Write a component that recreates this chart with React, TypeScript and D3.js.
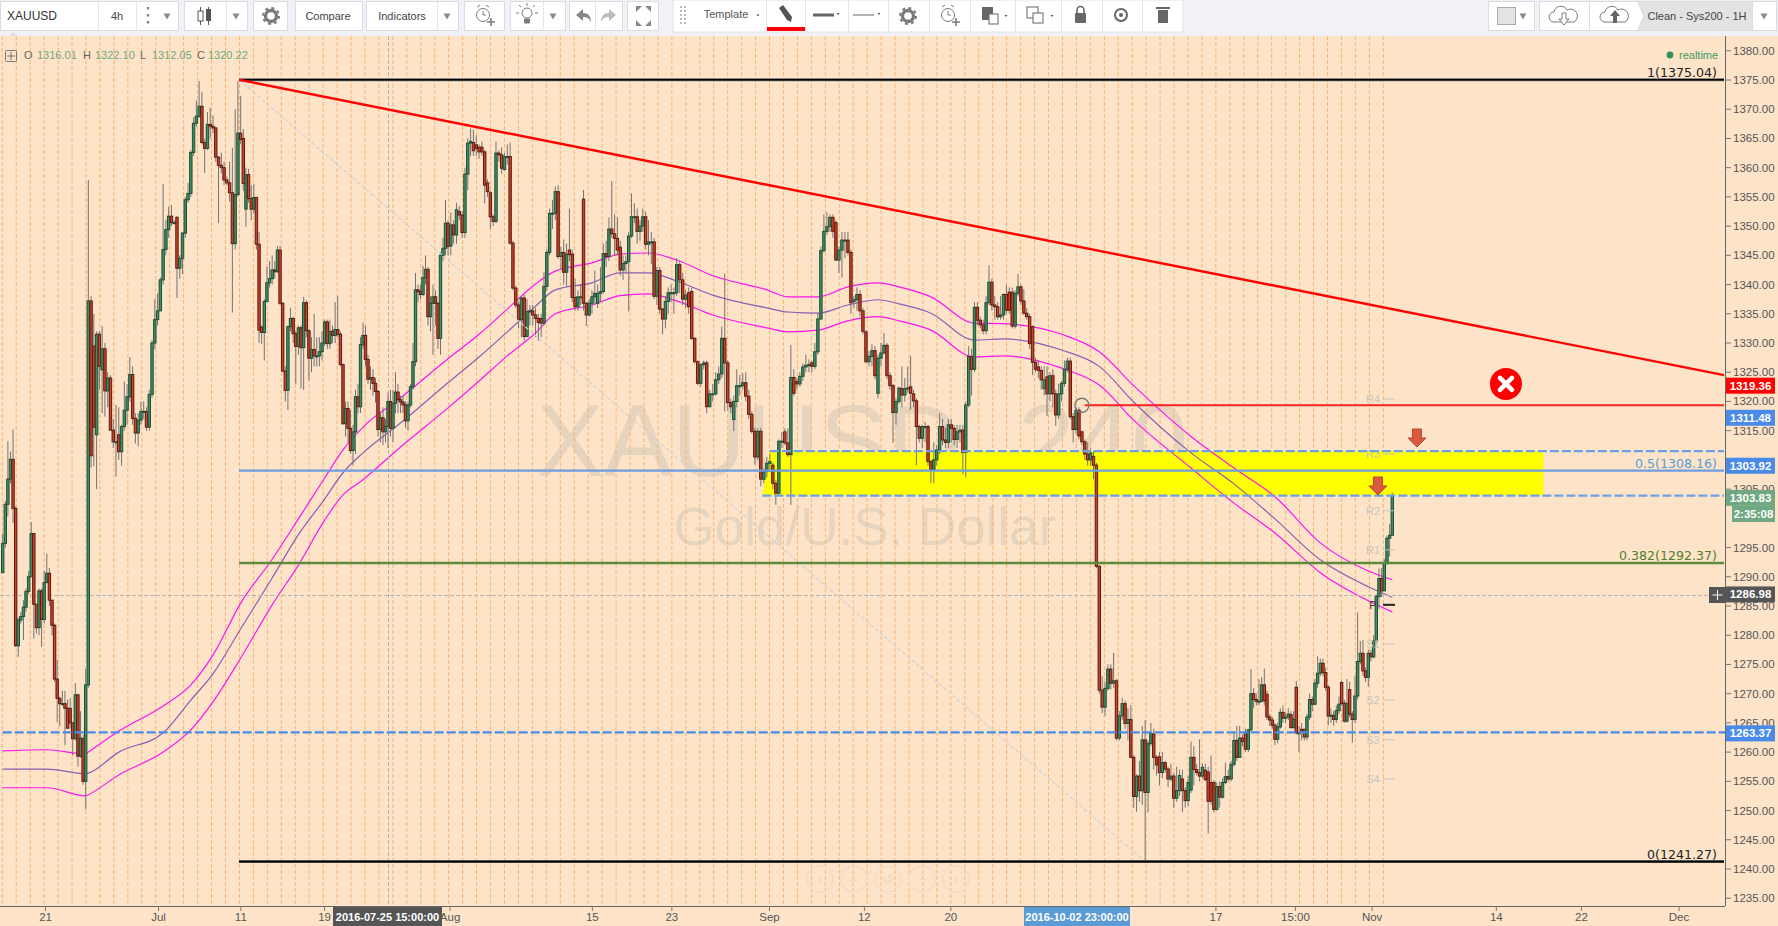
import React from 'react'
import * as d3 from 'd3'

const W = 1778
const H = 926

/** 4h XAUUSD candles */
const opens = [
  1290.7,1295.7,1302.4,1306.7,1310.1,1301.7,1278.2,1282.6,1283.2,1284.8,
  1287.5,1290,1297.4,1285.3,1281.3,1287.6,1282.7,1289,1290.6,1286,
  1281.7,1272.5,1269.2,1268.3,1268.3,1267.5,1267.5,1265,1262.3,1269.8,
  1259.3,1262.3,1255,1271.5,1337.2,1329.5,1314.3,1331.5,1325.4,1329,
  1321.8,1324,1315.1,1313.1,1314.3,1311.4,1315.7,1318.5,1320.8,1324.6,
  1317.1,1314.6,1316.8,1318.3,1318.3,1315.6,1321.2,1330,1334,1335.5,
  1340.8,1346,1349.4,1351.7,1350.6,1351.5,1342.8,1344.5,1348.8,1354.5,
  1355.6,1362.6,1367.6,1368.8,1370.5,1364.3,1363.3,1367.4,1367.1,1366.8,
  1361.8,1360.4,1360,1357.9,1357.4,1355.7,1347,1355.4,1365.9,1365,
  1352.9,1358.8,1354.7,1352.9,1354.9,1346.9,1332.7,1331.8,1337.1,1340.3,
  1341,1342.5,1342.2,1345.9,1336.8,1325.2,1321.9,1332.8,1334.2,1331.6,
  1329.4,1332.6,1329.2,1336.9,1332.1,1327.4,1328.9,1327.8,1327.8,1328.5,
  1330,1333.6,1329.9,1332,1331.3,1332.3,1331.5,1326.3,1316.2,1318.8,
  1315.4,1311.6,1314.8,1320.8,1319.1,1329.7,1331.3,1327.2,1323.8,1324.1,
  1323.1,1321.7,1315.2,1317.2,1314.8,1315.7,1320,1315.4,1319.7,1321.6,
  1320.3,1319.9,1319.4,1316.7,1319.4,1322.5,1326.8,1339.1,1338.8,1338.3,
  1341.2,1342.6,1334.5,1336.8,1337.9,1336.8,1330.8,1345,1346.2,1350.5,
  1346.6,1350.2,1348.5,1352.5,1351.9,1348.9,1358.9,1364.2,1364.3,1363.9,
  1363.5,1363.5,1362.7,1357.4,1355.7,1351.6,1350.8,1362.5,1362.2,1359.7,
  1361.9,1361.9,1347.1,1339.4,1336.5,1334,1337.7,1331.1,1335.4,1335.5,
  1334.8,1334.2,1334.2,1333.4,1339.7,1345.5,1352.2,1352.2,1355.9,1344.8,
  1345.5,1342.1,1345.9,1345.2,1337.8,1336.2,1337.9,1354.6,1336.8,1334.8,
  1336.8,1337.9,1336.8,1338.5,1338.8,1345.3,1344.8,1349.5,1348.7,1347.9,
  1346.4,1342.5,1343.6,1343.9,1348.3,1351.6,1351.6,1349.1,1350,1351.6,
  1346.9,1347.3,1347.3,1338,1342.4,1335.8,1334.1,1337.1,1338.6,1338.6,
  1338.6,1343.4,1340.8,1337.5,1338.6,1338.8,1330.8,1326.8,1323.1,1326.3,
  1326.6,1319.1,1321.3,1321.3,1323.7,1324.7,1330.8,1326.6,1319.8,1316.9,
  1320,1322.7,1322.7,1323.2,1320.9,1317.8,1314.9,1310.5,1314.9,1306.7,
  1308,1309.4,1309.1,1306,1304.3,1313.2,1314.8,1312.9,1310.9,1324.1,
  1323.4,1323,1324.3,1325.9,1326.2,1326.6,1326,1328.5,1334.1,1345.8,
  1349.1,1349.9,1351.5,1350.6,1344.2,1345.9,1347.6,1347.6,1345.5,1337.1,
  1337.4,1338.3,1335.5,1331.9,1326.8,1327.7,1328.7,1321.4,1327.4,1328.3,
  1329.6,1324.4,1322.7,1318.1,1320,1322.2,1321.1,1322.2,1322.5,1321.3,
  1320.1,1315.7,1313.7,1315.7,1315.7,1309.7,1308.3,1310,1311.7,1315.7,
  1313.4,1313,1316,1315.4,1313.5,1314.8,1315.1,1311.3,1319.4,1327.7,
  1325.5,1336.1,1333.9,1333.1,1332.1,1336.9,1340.4,1336.5,1336.2,1334.5,
  1334.8,1338.3,1338.7,1338.7,1332.9,1338.5,1339.6,1337.2,1335.1,1334.5,
  1332.8,1326.7,1325.9,1325.3,1322.2,1324.2,1321.3,1324.4,1321.3,1317.7,
  1321.3,1323.1,1325.5,1326.9,1317.4,1315.2,1318.5,1314.8,1313.1,1311,
  1310,1310.6,1309.1,1291.8,1270.6,1267.7,1270.9,1274.2,1271.8,1272.2,
  1262.4,1266.2,1268.3,1264.9,1265.6,1259.1,1252.4,1255.9,1253.4,1262.1,
  1253.1,1261.5,1263.1,1259.1,1259.2,1256.5,1258.2,1257.1,1255.4,1255.9,
  1252.1,1253.4,1255.4,1253.4,1251.7,1253.5,1259.1,1257,1256.5,1255.9,
  1256.9,1256.6,1254.8,1254.8,1250.2,1254.1,1252.3,1254.8,1255.8,1255.4,
  1257.9,1262,1259.1,1262.4,1263.4,1260.5,1263.8,1270,1269,1268.7,
  1268.7,1271.5,1269.9,1266,1265.5,1264.6,1262.2,1264.3,1266.8,1265.8,
  1266,1266.4,1264.2,1271.1,1263.3,1263.9,1263.9,1262.6,1266,1269,
  1268.2,1271.8,1273.5,1275.2,1273.6,1271.1,1266.2,1266.3,1265.6,1267.1,
  1271.9,1268.4,1265.3,1270.7,1266.5,1265.6,1269.6,1275.5,1276.9,1273.9,
  1272.8,1276.9,1276.3,1279,1286.6,1289.7,1287.6,1292.3,1296.6,1297.1
]
const closes = [
  1295.7,1302.4,1306.7,1310.1,1301.7,1278.2,1282.6,1283.2,1284.8,1287.5,
  1290,1297.4,1285.3,1281.3,1287.6,1282.7,1289,1290.6,1286,1281.7,
  1272.5,1269.2,1268.3,1268.3,1267.5,1264.1,1265,1262.3,1269.8,1259.3,
  1262.4,1255,1271.5,1337.2,1310.7,1315.6,1331.5,1326,1329,1321.8,
  1324,1315.1,1313.1,1313.1,1311.4,1315.7,1318.5,1320.8,1324.6,1317.1,
  1314.6,1316.8,1318.3,1318.3,1315.6,1321.2,1330,1334,1335.5,1340.8,
  1346,1349.4,1351.7,1350.6,1350.6,1342.8,1344.5,1348.8,1354.5,1355.6,
  1362.6,1367.6,1368.8,1370.5,1364.3,1363.3,1367.4,1367.1,1366.8,1361.8,
  1360.4,1360,1357.9,1357.4,1355.7,1347,1355.4,1365.9,1364.8,1357.3,
  1358.8,1354.7,1352.9,1354.9,1346.9,1332.2,1331.8,1337.1,1340.3,1341,
  1342.5,1342.2,1345.9,1336.8,1325.2,1321.9,1332.8,1334.2,1331.6,1329.4,
  1332.6,1329.2,1336.9,1332.1,1327.4,1328.9,1327.8,1327.8,1328.5,1330,
  1333.6,1329.9,1332,1331.3,1332.3,1331.5,1326.3,1316.2,1318.8,1315.4,
  1311.6,1314.8,1320.8,1319.1,1329.7,1331.3,1327.2,1323.8,1324.1,1323.1,
  1321.7,1315.2,1317.2,1314.8,1315.7,1320,1315.4,1319.7,1321.6,1320.3,
  1319.9,1319.4,1316.7,1319.4,1322.5,1326.8,1339.1,1338.8,1338.3,1341.2,
  1342.6,1334.5,1336.8,1337.9,1336.8,1330.8,1345,1346.2,1350.5,1346.5,
  1350.2,1348.5,1352.8,1351.9,1348.9,1358.9,1364.2,1364.5,1362.9,1363.3,
  1362.7,1362.7,1357,1355.9,1351.6,1350.8,1362.5,1362.2,1359.9,1361.9,
  1361.9,1347.1,1339.4,1336.5,1334,1337.7,1331.1,1335.4,1335.5,1334.8,
  1334.2,1333.5,1333.4,1339.7,1345.5,1352.2,1352.2,1355.9,1344.8,1345.5,
  1342.1,1345.2,1345.1,1337.8,1336.2,1337.9,1337.9,1336.8,1334.8,1336.8,
  1337.9,1338.5,1338.5,1338.8,1345.3,1344.8,1349.5,1348.7,1347.9,1345.9,
  1342.5,1343.6,1343.9,1348.3,1351.6,1351.6,1349.1,1350,1351.6,1346.9,
  1347.3,1347.3,1338,1342.4,1335.8,1334.1,1337.1,1338.6,1338.6,1338.6,
  1343.4,1340.8,1337.5,1338.2,1336.2,1330.8,1326.8,1323.1,1326.3,1326.6,
  1319.1,1321.3,1321.3,1323.7,1324.7,1330.8,1326.6,1319.8,1319.1,1320,
  1322.7,1322.7,1323.2,1320.9,1317.8,1314.9,1310.5,1314.9,1306.7,1308,
  1309.4,1309.7,1306,1304.3,1313.2,1313.2,1312.9,1310.9,1324.1,1321.4,
  1323,1324.3,1325.9,1326.2,1326.3,1326,1328.5,1334.1,1345.8,1349.1,
  1349.9,1351.5,1349.1,1344.2,1345.9,1347.6,1347.6,1345.5,1336.9,1337.4,
  1338.3,1335.5,1332,1326.8,1327.7,1328.7,1324.4,1327.4,1328.3,1329.6,
  1324.4,1322.7,1318.1,1320,1322.3,1321.1,1322.2,1322.3,1321.4,1320.1,
  1315.7,1313.7,1315.7,1315.7,1309.7,1308.3,1310,1311.7,1315.7,1313.4,
  1313,1316,1315.4,1313.5,1314.8,1315.1,1311.3,1319.4,1327.7,1325.5,
  1336.1,1333.9,1333.1,1332.1,1336.9,1340.4,1336.5,1336.2,1334.5,1334.8,
  1338.3,1335.6,1335.6,1332.9,1338.5,1339.6,1337.2,1335.1,1334.5,1329.9,
  1326.7,1325.5,1325.3,1323.7,1323.7,1321.3,1324.4,1321.3,1317.7,1321.3,
  1323.1,1325.5,1326.9,1317.4,1315.2,1318.5,1314.1,1313.1,1311,1310,
  1311.2,1309.1,1291.8,1270.6,1267.7,1270.9,1274.2,1271.8,1272.2,1262.4,
  1266.2,1268.3,1264.9,1265.6,1259.1,1252.4,1255.9,1253.4,1262.1,1253.1,
  1261.5,1263.2,1259.1,1257.8,1256.5,1258.2,1257.1,1255.4,1255.9,1252.1,
  1253.4,1256,1253.4,1251.7,1254.8,1259.1,1257,1256.5,1255.9,1257.4,
  1255.3,1251.6,1251.6,1250.2,1254.1,1252.3,1254.8,1255.8,1255.4,1257.9,
  1262,1259.1,1262.4,1261.8,1260.5,1263.8,1270,1269,1268.7,1268.7,
  1271.5,1268.8,1266,1265.5,1264.6,1262.2,1264.3,1266.8,1265.8,1266,
  1266.5,1264.2,1265.6,1263.3,1263.3,1263.5,1262.6,1266,1269,1268.2,
  1271.8,1273.5,1275.2,1273.6,1271.1,1266.2,1266.3,1265.6,1267.1,1268.2,
  1268.3,1265.3,1268.3,1266.5,1265.6,1269.6,1275.5,1276.9,1273.9,1272.8,
  1276.9,1276.3,1279,1286.6,1289.7,1287.6,1292.3,1296.6,1297.1,1303.8
]
const highs = [
  1297.4,1303,1313.2,1311.4,1315.2,1302,1283,1284,1286,1288,
  1291,1299.4,1297.5,1285.3,1288,1288,1291,1294,1291.5,1286,
  1282,1275.8,1269.5,1270.5,1270.5,1269,1269.2,1265,1271.8,1270,
  1267,1263,1274.2,1357.9,1338,1335,1332,1332,1332.9,1330,
  1325,1324.5,1317,1319.4,1319,1316,1323.4,1323,1327.6,1326,
  1318,1318,1320,1320,1319,1322,1330.5,1337.6,1338.5,1341.2,
  1357.2,1351,1353.3,1353.6,1351,1351.7,1345,1349,1355,1357.4,
  1363,1368.6,1371.5,1374.8,1373,1365,1369.5,1370.3,1368.9,1367,
  1362,1362.6,1361,1358.5,1361,1363.4,1370,1374.8,1372.3,1366.6,
  1360,1359.8,1357,1357.2,1355,1349,1333,1337.5,1343,1344,
  1345,1344,1346.6,1346.6,1337,1326,1333,1336,1334.5,1332,
  1333,1333,1337.9,1337.3,1332.4,1331,1335,1331,1331,1332,
  1334,1334,1334,1333,1337,1338.1,1332,1326.5,1320,1320,
  1318.5,1316,1322,1323,1331,1333.5,1333,1328,1326,1325.5,
  1324,1322,1318,1319,1317,1321.5,1322,1322,1325,1323,
  1321,1321,1320,1320,1323,1330,1342,1340,1340,1343.2,
  1345,1343,1338,1340,1339,1337,1345.5,1348,1354.5,1351,
  1352.3,1351,1354,1353.5,1352.5,1360,1365,1366.7,1366.5,1365.5,
  1364,1364.5,1363,1358,1356,1352,1364.5,1363,1363.5,1362.5,
  1364,1364.3,1347.5,1339.8,1337,1338,1338.3,1337.5,1336.5,1336.5,
  1336,1335,1335,1342.2,1346,1353,1354.5,1356.8,1357,1346.5,
  1347.7,1347,1353,1346,1341,1339,1340,1356.2,1337,1337.5,
  1339,1342.4,1340,1343,1347,1347.5,1351.5,1357.7,1352,1351.5,
  1347.5,1345,1345,1349,1355.6,1353.9,1353,1351,1353,1352.5,
  1351,1349,1348,1343,1343,1336,1338,1339.5,1340,1339.5,
  1344.5,1344,1342,1339,1339.5,1339.5,1331,1327,1326.5,1327,
  1327,1322,1323,1325,1326,1332.8,1341.9,1327,1320.5,1321,
  1325.5,1324.5,1324.8,1325,1322,1318.3,1315.5,1315.4,1315.5,1308.5,
  1310.5,1311,1309.5,1306.5,1313.5,1314.8,1315.4,1315.4,1329.7,1325.5,
  1324,1325,1326.5,1328,1327.2,1327,1330,1335,1346.5,1352,
  1352.4,1352,1352,1351,1346.5,1349,1349,1349,1346,1338,
  1339.5,1339,1336,1332.2,1328.6,1329.8,1329.5,1328,1330,1331.7,
  1330,1325,1323,1320.5,1322.5,1326,1324,1326,1327.8,1322,
  1320.5,1316,1316,1316.5,1316,1310,1313,1312.5,1318,1317,
  1315.5,1317,1317,1316,1316,1316,1316,1320,1329.5,1329,
  1337,1337,1334.5,1334,1338,1343.3,1341,1338,1337,1338,
  1338.5,1340,1339.5,1339.5,1339,1341.8,1340,1339.2,1336,1335,
  1333,1327.5,1327,1326,1326,1326,1325,1325.5,1322,1323,
  1323.5,1327,1327.5,1327.5,1318,1319,1319,1315,1313.5,1313,
  1312,1311.5,1309.5,1292,1273,1272,1275,1275,1277,1272.5,
  1267,1269.3,1268.8,1267.5,1268,1259.5,1256.2,1258.5,1264.5,1265.5,
  1262,1265,1264,1259.5,1260,1260,1258.5,1257.5,1258,1256.5,
  1257.5,1257,1257,1254,1256,1261.8,1261,1258,1262.2,1258,
  1258,1257.5,1259.4,1255.2,1254.8,1255,1255.5,1258.2,1257,1258.5,
  1263.5,1264.5,1264.5,1263,1264,1264,1274.2,1271,1270,1272.5,
  1272.8,1274.3,1270.5,1266.5,1266,1265,1265,1267.5,1268,1266.8,
  1267.5,1267,1267,1272.2,1264.5,1265,1264,1266.5,1270,1269.5,
  1272.5,1276.4,1276,1276,1274.5,1271.5,1267.5,1267,1268,1269.5,
  1272.2,1269,1272.5,1272,1267,1273,1283.9,1279,1279.2,1274.5,
  1277.5,1277.5,1280,1287,1291.4,1291.5,1293,1297,1299,1304.4
]
const lows = [
  1290.7,1295,1300.3,1306,1299.2,1278,1276.3,1282,1279.2,1284,
  1287,1290,1279.4,1280.3,1280,1278,1282,1289,1285,1280,
  1272,1265.2,1264.4,1268,1261.2,1264,1264,1259.4,1262,1257.5,
  1259,1254.4,1250.2,1271,1308.7,1308.9,1305,1322,1318,1317.4,
  1319,1315,1312,1307.1,1310,1309,1315,1316,1320,1316,
  1312.8,1312.3,1316,1317,1315,1315,1320.6,1329,1333,1335.5,
  1340,1345,1348,1350,1350.3,1337.7,1341,1341.8,1348,1354,
  1355,1362,1367,1368.5,1364,1359.1,1363,1365,1365.9,1361,
  1350.5,1359,1357,1357,1354.2,1335.2,1346,1355,1364,1356,
  1349.9,1354,1351,1352.2,1346,1330,1329.8,1327,1337,1339.5,
  1340,1341,1342,1336.5,1325,1320,1318.5,1332,1330,1323,
  1328,1322.2,1322,1331,1323.6,1325,1326,1326,1326,1327,
  1329.5,1329,1329,1330,1330,1331,1326,1316,1314,1313,
  1311.1,1309,1311,1318,1318,1329,1326,1323,1322,1321,
  1319.8,1314,1313,1312.5,1313,1312,1314,1313,1318,1318,
  1318,1318,1315.5,1315,1319,1322,1326,1337,1337.5,1338,
  1340,1333,1332,1328,1333,1329,1328,1344,1345,1345,
  1345,1347,1347,1351,1348,1348,1356.2,1362,1362,1362,
  1361.5,1362,1353.9,1355,1349.5,1350,1350.5,1361,1359,1359.5,
  1360.5,1346.8,1339,1336,1332.5,1331,1330.4,1331,1333,1333,
  1331,1330.4,1331,1333,1339,1345,1349.5,1351,1344.4,1342.5,
  1340,1339.7,1344,1337,1335.5,1335.5,1336.5,1335.5,1332.9,1334.5,
  1335,1336.5,1336,1337,1338.5,1343,1344,1348,1345,1345,
  1341.5,1340.8,1342,1335.4,1348,1350.5,1347,1347.5,1349,1346,
  1345,1343.5,1337.5,1336.5,1335,1331.5,1332.5,1335,1337,1335,
  1338,1338.5,1336.5,1336,1335,1330.5,1326.5,1322.8,1322.5,1325.5,
  1318,1319,1320,1321,1323,1324,1318.3,1318.5,1318,1314.9,
  1319,1321,1322,1320,1317,1314.5,1309.2,1310,1305.5,1306,
  1307,1308,1305,1302.3,1304,1312,1312.5,1310.5,1302.3,1321,
  1322,1322.5,1323.5,1325,1325,1325,1325.5,1328,1334,1345.5,
  1348.5,1349,1348,1344,1342,1341.2,1344.5,1345,1335,1336,
  1335.5,1334.5,1331.5,1326.5,1326,1326,1323.8,1320.5,1326,1328,
  1323.8,1322,1312.9,1316,1319.5,1319,1320,1321.5,1318.6,1319,
  1309.1,1313,1312,1313,1309,1306,1306,1309,1311,1312.5,
  1312,1312,1313,1312.5,1312,1313,1307.5,1307,1319,1321,
  1325,1333,1332.5,1331.5,1331.5,1336.5,1335.5,1334,1334,1334,
  1334,1335,1335,1332.5,1332.5,1338,1336.5,1334.8,1334,1329,
  1324.5,1325,1324,1322,1321,1317.5,1320,1319,1315.8,1317,
  1320,1322.5,1325,1317,1313,1314.5,1313.5,1312.5,1310,1309,
  1309,1306.7,1291.5,1270,1266.7,1266.2,1270.5,1270.7,1271,1262,
  1262,1265.5,1264,1262,1259,1250.5,1249.8,1251.5,1251,1241.3,
  1249.7,1261,1257,1256,1254.3,1255.5,1256.5,1254,1255,1250.5,
  1251.5,1252.5,1249.7,1250.5,1250.8,1253,1254.3,1256,1255,1255.5,
  1255,1246.1,1251,1249.7,1250,1250.5,1252,1254.5,1255,1255,
  1257.5,1258.5,1259,1261,1260,1260,1263.5,1267.5,1268,1268,
  1268.5,1268,1265.5,1264.5,1264,1261.2,1261.5,1264,1265,1265,
  1265.5,1264,1264,1263,1260,1262,1262,1262,1265.5,1267,
  1268,1271,1273,1273,1270.5,1264.6,1265,1264.5,1265,1266.5,
  1268,1265,1265,1266,1261.6,1265,1269,1275,1273,1272,
  1271.2,1275.5,1276,1278.5,1284.5,1286.5,1287.5,1292,1293.5,1297
]

/** Moving average band, sampled at these bar numbers */
const maBars = [0,17,32,33,44,60,70,78,88,100,110,120,127,135,150,169,180,190,200,207,220,230,240,250,262,280,287,297,307,317,324,335,350,360,380,393,405,425,440,455,472,490,499]
const maUpper = [1260.2,1260.4,1259.7,1260,1263.6,1267.9,1271.5,1276.6,1285.5,1293,1299.9,1306.9,1311.7,1315.6,1320.6,1327.3,1331.5,1335.8,1340.1,1342.3,1343.7,1345.2,1345.4,1344.2,1341.5,1339.1,1337.9,1337.9,1339.6,1340.3,1339.6,1337.9,1333.4,1333.3,1331.5,1328.5,1322.7,1314,1308.6,1303.7,1295.8,1291,1289.5]
const maMiddle = [1257.1,1257.1,1256.3,1256.4,1260,1263.3,1268.9,1273.4,1281.1,1289.8,1297.2,1303.3,1307.8,1311.2,1316.3,1323.2,1327.6,1331.9,1336.3,1339.1,1340.3,1342,1342,1340.6,1338.2,1336,1335.3,1335.1,1336.5,1337.4,1336.7,1335.1,1330.5,1330.7,1328.8,1326,1319.9,1311.2,1305.9,1299.9,1292.9,1288.3,1286.5]
const maLower = [1253.9,1253.9,1252.5,1252.7,1256.1,1260,1263.8,1268.6,1276.1,1285.2,1292,1299.7,1304,1306.6,1312.2,1318.9,1323.5,1327.8,1331.7,1335,1336.5,1338.1,1338.4,1337.2,1334.8,1332.6,1331.9,1332.2,1333.8,1334.5,1333.8,1332.2,1327.6,1327.8,1325.7,1322.8,1316.8,1308.6,1302.6,1297.5,1290.7,1285.9,1284]

/** Bar numbers the screen positions were measured at (bars are not evenly packed) */
const barKnots = [0,33,88,127,169,250,324,393,445,499,620]
const pxKnots = [2.7,88.3,240.7,343,448,676.7,899,1099.3,1248.3,1392.3,1731]

// 1300 and 1310 sit fully under the price tags in the chart
const priceTicks = d3.range(1235, 1381, 5).filter((t) => t !== 1300 && t !== 1310)
const dateLabels = ['21','Jul','11','19','Aug','15','23','Sep','12','20','17','15:00','Nov','14','22','Dec']
const dateDays = [3.1,11.2,17.1,23.1,32.1,42.3,48,55,61.8,68,87,92.7,98.2,107.1,113.2,120.2]
const gridDays = d3.range(0, 100)

const pivotLabels = ['R4','R3','R2','R1','P','S1','S2','S3','S4']
const pivotPrices = [1320.4,1311,1301.3,1294.6,1285.2,1278.5,1268.9,1262.1,1255.4]

const axisTagTexts = ['1319.36','1311.48','1303.92','1303.83','1286.98','1263.37']
const axisTagPrices = [1322.7,1317.2,1309,1303.5,1286.98,1263.2]
const axisTagColors = ['#ff0000','#4a8ae8','#4a8ae8','#6fa883','#555555','#4a8ae8']

const BG = '#fde4c9'
const UI_FONT = '"Liberation Sans", sans-serif'
const ICON = '#7b7b7b'

const priceY = d3.scaleLinear().domain([1375, 1240]).range([80, 869])
const barX = d3.scaleLinear().domain(barKnots).range(pxKnots)
const dayX = d3.scaleLinear().domain([0, 99]).range([2.3, 1383.3])

const tbBox = (x: number, w: number, key: string) => (
    <rect key={key} x={x + 0.5} y={1.5} width={w} height={29} fill="#fff" stroke="#d8dbe2" />
)

const caret = (x: number, y: number) => (
    <path d={`M${x - 3.5},${y - 2.5}h7l-3.5,6z`} fill="#8a8a8a" />
)

const tinyCaret = (x: number, y: number) => (
    <path d={`M${x - 1.5},${y}h3l-1.5,2z`} fill="#555" />
)

const label = (text: string, x: number, y: number, size = 11, color = '#555', anchor = 'middle') => (
    <text x={x} y={y} fontSize={size} fill={color} textAnchor={anchor as any} fontFamily={UI_FONT}>{text}</text>
)

const gear = (cx: number, cy: number) => (
    <g>
        <circle cx={cx} cy={cy} r={5.5} fill="none" stroke={ICON} strokeWidth={3.4} />
        <circle cx={cx} cy={cy} r={8} fill="none" stroke={ICON} strokeWidth={2} strokeDasharray="3 3.3" />
    </g>
)

const alarm = (cx: number, cy: number) => (
    <g fill="none" stroke={ICON}>
        <circle cx={cx - 1} cy={cy} r={6.5} />
        <path d={`M${cx - 1},${cy - 4}v4h3M${cx - 7},${cy - 8}l3,-2M${cx + 5},${cy - 8}l-3,-2`} />
        <path d={`M${cx + 7},${cy + 3}v8M${cx + 3},${cy + 7}h8`} strokeWidth={1.6} />
    </g>
)

const cloud = (cx: number, cy: number, solid: boolean) => (
    <g>
        <path
            d={`M${cx - 10},${cy + 6}a5,5 0 0 1 0,-10a7,7 0 0 1 13,-2a6,6 0 0 1 7,12z`}
            fill="#fff"
            stroke={ICON}
        />
        <path
            d={solid ? `M${cx},${cy - 6}l5,6h-3v7h-4v-7h-3z` : `M${cx - 2},${cy - 3}h4v6h3l-5,6l-5,-6h3z`}
            fill={solid ? '#666' : '#fff'}
            stroke={solid ? 'none' : ICON}
        />
    </g>
)

/** Top toolbars */
const Toolbar = () => (
    <g>
        <rect x={0} y={0} width={W} height={36} fill="#f0f2f7" />
        {tbBox(0, 178, 'a')}
        {tbBox(184, 63, 'b')}
        {tbBox(253, 34, 'c')}
        {tbBox(295, 67, 'd')}
        {tbBox(366, 92, 'e')}
        {tbBox(464, 40, 'f')}
        {tbBox(510, 55, 'g')}
        {tbBox(569, 53, 'h')}
        {tbBox(627, 31, 'i')}
        <path d="M98.5,2v28M136.5,2v28M226.5,2v28M595.5,2v28" stroke="#e4e6eb" />
        <path d="M437.5,2v28M543.5,2v28" stroke="#c9ccd2" strokeDasharray="1 1" />
        {label('XAUUSD', 32, 20, 12, '#333')}
        {label('4h', 117, 20, 11, '#444')}
        <path d="M148,7v2.5M148,14v2.5M148,21v2.5" stroke="#888" strokeWidth={2.4} />
        {caret(167, 16)}
        <path d="M200.5,7v18M208.5,7v18" stroke="#555" />
        <rect x={198} y={11} width={5} height={10} fill="#fff" stroke="#555" />
        <rect x={206} y={9} width={5} height={12} fill="#555" />
        {caret(236, 16)}
        {gear(271, 16)}
        {label('Compare', 328, 20, 11, '#444')}
        {label('Indicators', 402, 20, 11, '#444')}
        {caret(447, 16)}
        {alarm(484, 15)}
        <circle cx={527} cy={13} r={5} fill="none" stroke={ICON} />
        <path d="M524.5,19h5v4h-5zM527,3v3M519,13h-3M535,13h3M521,7l-2,-2M533,7l2,-2" stroke={ICON} fill={ICON} />
        {caret(553, 16)}
        <path d="M576,15l7,-6v4c6,0 8,4 8,9c-2,-4 -4,-5 -8,-5v4z" fill="#888" />
        <path d="M616,15l-7,-6v4c-6,0 -8,4 -8,9c2,-4 4,-5 8,-5v4z" fill="#bbb" />
        <path d="M636,6l6,0l-6,6zM651,6l-6,0l6,6zM636,26l6,0l-6,-6zM651,26l-6,0l6,-6z" fill="#888" />

        <rect x={673} y={0} width={510} height={32} fill="#fff" stroke="#e0e2e8" />
        <path d="M681,6v20M685,6v20" stroke="#bbb" strokeDasharray="2 2" strokeWidth={2} />
        {label('Template', 726, 18, 11, '#555')}
        {tinyCaret(758, 14.5)}
        <rect x={767} y={27} width={38} height={4} fill="#f00" />
        <path d="M779,8l4,-3l9,12l-1,5l-4,-2z" fill="#555" />
        <path d="M766.5,0v32M805.5,0v32M848.5,0v32M888.5,0v32M929.5,0v32M970.5,0v32M1015.5,0v32M1061.5,0v32M1102.5,0v32M1142.5,0v32" stroke="#e4e6eb" />
        <rect x={813} y={13.5} width={21} height={3} fill="#666" />
        {tinyCaret(838, 13)}
        <rect x={853} y={14.5} width={21} height={1} fill="#666" />
        {tinyCaret(879, 13)}
        {gear(908, 16)}
        {alarm(949, 15)}
        <rect x={982} y={7} width={11} height={13} fill="#666" />
        <rect x={989} y={14} width={9} height={10} fill="#fff" stroke="#666" />
        {tinyCaret(1006, 15)}
        <rect x={1027} y={7} width={11} height={11} fill="#fff" stroke="#666" />
        <rect x={1033} y={13} width={10} height={10} fill="#fff" stroke="#666" />
        {tinyCaret(1052, 15)}
        <rect x={1075} y={13} width={11} height={10} fill="#666" rx={1} />
        <path d="M1077,13v-3a3.5,3.5 0 0 1 7,0v3" fill="none" stroke="#666" strokeWidth={1.6} />
        <circle cx={1121} cy={15} r={6} fill="none" stroke="#666" strokeWidth={2} />
        <circle cx={1121} cy={15} r={2} fill="#666" />
        <rect x={1158} y={10} width={10} height={13} fill="#666" />
        <rect x={1156} y={7} width={14} height={2} fill="#666" />

        {tbBox(1488, 46, 'j')}
        <rect x={1497.5} y={7.5} width={18} height={17} fill="#e3e3e3" stroke="#aaa" />
        {caret(1523, 16)}
        {tbBox(1539, 237, 'k')}
        <rect x={1638} y={2} width={114} height={28} fill="#e3e3e3" />
        <path d="M1589.5,2v28M1752.5,2v28" stroke="#d8dbe2" />
        {cloud(1564, 16, false)}
        {cloud(1615, 16, true)}
        <path d="M1638,2l6,14l-6,14" fill="#fff" stroke="#d0d0d0" />
        {label('Clean - Sys200 - 1H', 1697, 20, 11, '#444')}
        {caret(1764, 16)}
        <path d="M9,36l4,-4l4,4z" fill="#ddd" />
    </g>
)

/** One candle, wick behind body */
const Candle = ({ i }: { i: number }) => {
    const x = barX(i)
    const up = closes[i] >= opens[i]
    const top = priceY(Math.max(opens[i], closes[i]))
    const bottom = priceY(Math.min(opens[i], closes[i]))
    return (
        <g>
            <line x1={x} x2={x} y1={priceY(highs[i])} y2={priceY(lows[i])} stroke="#727272" />
            <rect
                x={x - 1.2}
                y={top}
                width={2.4}
                height={Math.max(bottom - top, 1)}
                fill={up ? '#3f8f64' : '#cf4128'}
                stroke={up ? '#1d4f35' : '#5d1a10'}
            />
        </g>
    )
}

const HLine = ({ price, from, to, color, width, dash }: {
    price: number, from: number, to: number, color: string, width: number, dash?: string
}) => (
    <line
        x1={barX(from)}
        x2={barX(to)}
        y1={priceY(price)}
        y2={priceY(price)}
        stroke={color}
        strokeWidth={width}
        strokeDasharray={dash}
    />
)

const Arrow = ({ bar, tip }: { bar: number, tip: number }) => {
    const x = barX(bar)
    const y = priceY(tip)
    return (
        <path
            d={`M${x},${y}l-9,-9h4.5v-9h9v9h4.5z`}
            fill="#db5a3f"
            stroke="#b9492f"
        />
    )
}

/** Fibonacci + hand drawn objects */
const Drawings = () => {
    const endBar = 617.5
    const startBar = 87.4
    return (
        <g>
            <line
                x1={barX(startBar)}
                y1={priceY(1375.04)}
                x2={barX(409)}
                y2={priceY(1241.27)}
                stroke="#cfd2d4"
                strokeWidth={1.2}
                strokeDasharray="4 2"
            />
            <HLine price={1375.04} from={startBar} to={endBar} color="#6b6b6b" width={3} />
            <HLine price={1375.04} from={startBar} to={endBar} color="#000" width={1.6} />
            <HLine price={1241.27} from={startBar} to={endBar} color="#6b6b6b" width={3} />
            <HLine price={1241.27} from={startBar} to={endBar} color="#000" width={1.6} />
            <HLine price={1308.16} from={startBar} to={endBar} color="#6d9ee0" width={2.4} />
            <HLine price={1292.37} from={startBar} to={endBar} color="#5e8a3c" width={2.4} />
            <HLine price={1311.5} from={281} to={endBar} color="#6f9fe8" width={2.2} dash="9 3" />
            <HLine price={1303.9} from={278.5} to={endBar} color="#6f9fe8" width={2.2} dash="9 3" />
            <HLine price={1263.37} from={0} to={620} color="#4a8ae8" width={2.2} dash="9 3" />
            <HLine price={1319.36} from={388} to={endBar} color="#f22" width={2} />
            <line
                x1={barX(startBar)}
                y1={priceY(1375.04)}
                x2={barX(endBar)}
                y2={priceY(1324.5)}
                stroke="#f00"
                strokeWidth={2.4}
            />
            <circle cx={barX(387)} cy={priceY(1319.36)} r={7} fill="none" stroke="#777" strokeWidth={1.4} />
            <Arrow bar={507.8} tip={1312.2} />
            <Arrow bar={493.6} tip={1304} />
            <circle cx={barX(539.6)} cy={priceY(1323)} r={16} fill="#f00" />
            <path
                d={`M${barX(539.6) - 6},${priceY(1323) - 6}l12,12M${barX(539.6) + 6},${priceY(1323) - 6}l-12,12`}
                stroke="#fff"
                strokeWidth={4.6}
                strokeLinecap="round"
            />
        </g>
    )
}

const FibLabel = ({ text, price, color }: { text: string, price: number, color: string }) => (
    <text
        x={1717}
        y={priceY(price) - 3}
        textAnchor="end"
        fontSize={12.6}
        fontFamily='"DejaVu Sans", sans-serif'
        fill={color}
    >
        {text}
    </text>
)

const Legend = () => {
    const names = ['O', 'H', 'L', 'C']
    const nameX = [24, 83, 140, 197]
    const values = ['1316.01', '1322.10', '1312.05', '1320.22']
    const valueX = [37, 95, 152, 208]
    return (
        <g fontFamily={UI_FONT} fontSize={11}>
            <rect x={5.5} y={50.5} width={11} height={11} fill="none" stroke="#777" rx={1} />
            <path d="M11,52v8M7,56h8" stroke="#777" />
            {names.map((n, i) => (
                <g key={n}>
                    <text x={nameX[i]} y={59} fill="#666">{n}</text>
                    <text x={valueX[i]} y={59} fill="#6fa87c">{values[i]}</text>
                </g>
            ))}
            <circle cx={1670} cy={55} r={3.4} fill="#35905a" />
            <text x={1679} y={59} fill="#3f9a60">realtime</text>
        </g>
    )
}

const PriceAxis = () => (
    <g fontFamily={UI_FONT} fontSize={11.5}>
        <line x1={1725.5} x2={1725.5} y1={36} y2={906} stroke="#666" />
        {priceTicks.map((t) => (
            <g key={t}>
                <line x1={1726} x2={1731} y1={priceY(t)} y2={priceY(t)} stroke="#777" />
                <text x={1733} y={priceY(t) + 4} fill="#555">{d3.format('.2f')(t)}</text>
            </g>
        ))}
        {axisTagTexts.map((t, i) => (
            <g key={t}>
                <rect x={1726} y={priceY(axisTagPrices[i]) - 8} width={49} height={16} fill={axisTagColors[i]} />
                <text x={1750.5} y={priceY(axisTagPrices[i]) + 4} fill="#fff" fontWeight="bold" textAnchor="middle">{t}</text>
            </g>
        ))}
        <rect x={1732} y={506} width={43} height={16} fill="#6fa883" />
        <text x={1753.5} y={518} fill="#fff" fontWeight="bold" textAnchor="middle">2:35:08</text>
        <rect x={1709} y={587} width={17} height={16} fill="#555" />
        <path d="M1712.5,595h10M1717.5,590v10" stroke="#fff" />
    </g>
)

const DateAxis = () => (
    <g fontFamily={UI_FONT} fontSize={11.5}>
        <line x1={0} x2={1725} y1={906.5} y2={906.5} stroke="#666" />
        {dateLabels.map((t, i) => (
            <g key={i}>
                <line x1={dayX(dateDays[i])} x2={dayX(dateDays[i])} y1={906} y2={911} stroke="#777" />
                <text x={dayX(dateDays[i])} y={921} fill="#555" textAnchor="middle">{t}</text>
            </g>
        ))}
        <rect x={333} y={907} width={109} height={19} fill="#555" />
        <text x={387.5} y={921} fill="#fff" fontWeight="bold" textAnchor="middle" fontSize={11}>2016-07-25 15:00:00</text>
        <rect x={1024} y={907} width={106} height={19} fill="#5b9bd5" />
        <text x={1077} y={921} fill="#fff" fontWeight="bold" textAnchor="middle" fontSize={11}>2016-10-02 23:00:00</text>
    </g>
)

const NavButtons = () => {
    const marks = ['‹', '–', '↺', '+', '›']
    return (
        <g fontFamily={UI_FONT} fontSize={14} fill="#eed8c0" textAnchor="middle">
            {marks.map((m, i) => (
                <g key={i}>
                    <circle cx={820 + i * 34} cy={879} r={13} fill="none" stroke="#f3dcc6" strokeWidth={1.5} />
                    <text x={820 + i * 34} y={884}>{m}</text>
                </g>
            ))}
        </g>
    )
}

const App = () => {
    const maLine = d3.line<number>().x((_, i) => barX(maBars[i])).y((d) => priceY(d)).curve(d3.curveMonotoneX)
    const yellowPath = [
        [barX(281), priceY(1311.5)],
        [barX(553), priceY(1311.5)],
        [barX(553), priceY(1303.9)],
        [barX(278.5), priceY(1303.9)]
    ].map((p) => p.join(',')).join(' ')

    return (
        <svg width={W} height={H} style={{ position: 'fixed', left: 0, top: 0, background: BG }}>
            <defs>
                <clipPath id="plot">
                    <rect x={0} y={36} width={1725} height={870} />
                </clipPath>
            </defs>
            <rect x={0} y={36} width={W} height={H - 36} fill={BG} />
            <g clipPath="url(#plot)">
                <text x={862} y={476} fontSize={102} fontFamily={UI_FONT} fill="#e6d4bf" textAnchor="middle">XAUUSD, 240</text>
                <text x={865} y={545} fontSize={53} fontFamily={UI_FONT} fill="#e6d4bf" textAnchor="middle">Gold/U.S. Dollar</text>
                {gridDays.map((d) => (
                    <line key={d} x1={dayX(d)} x2={dayX(d)} y1={36} y2={906} stroke="#f6b677" strokeDasharray="4 2" />
                ))}
                <polygon points={yellowPath} fill="#ffff00" />
                <path d={maLine(maUpper) || ''} fill="none" stroke="#ff14f0" strokeWidth={1.2} />
                <path d={maLine(maMiddle) || ''} fill="none" stroke="#8d5cb4" strokeWidth={1.2} />
                <path d={maLine(maLower) || ''} fill="none" stroke="#ff14f0" strokeWidth={1.2} />
                <line x1={388.5} x2={388.5} y1={36} y2={906} stroke="#b0b3b5" strokeDasharray="4 2" />
                <line x1={0} x2={1725} y1={595.5} y2={595.5} stroke="#b0b3b5" strokeDasharray="4 2" />
                {opens.map((_, i) => <Candle key={i} i={i} />)}
                {pivotLabels.map((t, i) => (
                    <g key={t}>
                        <text
                            x={1373}
                            y={priceY(pivotPrices[i]) + 4}
                            fontSize={11}
                            fontFamily={UI_FONT}
                            fill={t === 'P' ? '#333' : '#c8c4bd'}
                            textAnchor="middle"
                        >
                            {t}
                        </text>
                        <line
                            x1={1383}
                            x2={1395}
                            y1={priceY(pivotPrices[i])}
                            y2={priceY(pivotPrices[i])}
                            stroke={t === 'P' ? '#222' : '#c8c4bd'}
                            strokeWidth={t === 'P' ? 2 : 1}
                        />
                    </g>
                ))}
                <Drawings />
                <FibLabel text="1(1375.04)" price={1375.04} color="#222" />
                <FibLabel text="0.5(1308.16)" price={1308.16} color="#5b9bd5" />
                <FibLabel text="0.382(1292.37)" price={1292.37} color="#4f7f2a" />
                <FibLabel text="0(1241.27)" price={1241.27} color="#222" />
                <NavButtons />
            </g>
            <Legend />
            <PriceAxis />
            <DateAxis />
            <Toolbar />
        </svg>
    )
}

export default App
